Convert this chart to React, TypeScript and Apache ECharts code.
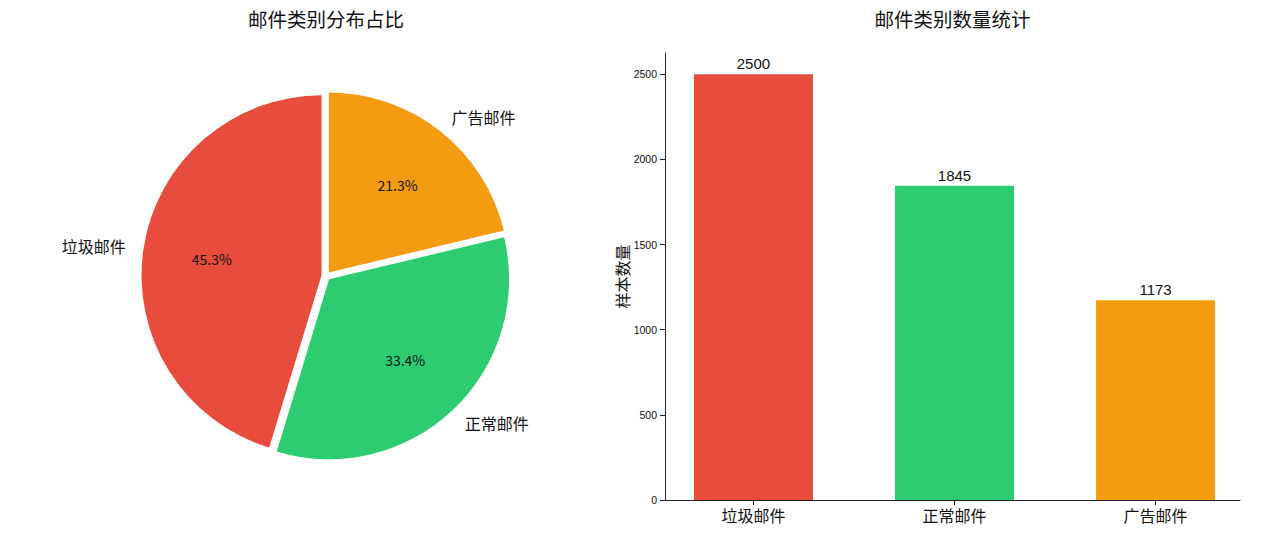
import React, { useEffect, useRef } from "react";
import * as echarts from "echarts";

const categories = ["垃圾邮件", "正常邮件", "广告邮件"];
const counts = [2500, 1845, 1173];
const colors = ["#e74c3c", "#2ecc71", "#f39c12"];
const yTicks = [0, 500, 1000, 1500, 2000, 2500];
const pieTitle = "邮件类别分布占比";
const barTitle = "邮件类别数量统计";
const yName = "样本数量";

const CJK = '"Noto Sans CJK SC", sans-serif';
const NUM = '"Liberation Sans", "Noto Sans CJK SC", sans-serif';

export default function App() {
  const ref = useRef<HTMLDivElement>(null);
  useEffect(() => {
    if (!ref.current) return;
    const chart = echarts.init(ref.current, null, { renderer: "svg" });
    const total = counts.reduce((a, b) => a + b, 0);
    const pieCenter = [326, 276];
    const R = 180;
    const off = 4.5;
    const pieData = categories.map((c, i) => ({
      name: c,
      value: counts[i],
      selected: true,
      itemStyle: { color: colors[i] },
    }));
    const overlayData = categories.map((c, i) => ({
      name: c,
      value: counts[i],
      selected: true,
      itemStyle: { color: "rgba(0,0,0,0)" },
    }));
    chart.setOption({
      animation: false,
      title: [
        {
          text: pieTitle,
          left: 326,
          top: 9,
          textAlign: "center",
          padding: 0,
          textStyle: { fontFamily: CJK, fontSize: 19.5, fontWeight: "normal", color: "#111" },
        },
        {
          text: barTitle,
          left: 952.5,
          top: 9,
          textAlign: "center",
          padding: 0,
          textStyle: { fontFamily: CJK, fontSize: 19.5, fontWeight: "normal", color: "#111" },
        },
      ],
      grid: { left: 665, right: 21, top: 53, bottom: 55, containLabel: false },
      xAxis: {
        type: "value",
        min: -0.44,
        max: 2.42,
        splitLine: { show: false },
        axisLine: { show: true, onZero: false, lineStyle: { color: "#222", width: 1 } },
        axisTick: { show: true, customValues: [0, 1, 2], length: 5, lineStyle: { color: "#222" } },
        axisLabel: {
          customValues: [0, 1, 2],
          formatter: (v: number) => categories[Math.round(v)] ?? "",
          fontFamily: CJK,
          fontSize: 16,
          color: "#111",
          margin: 7,
        },
      },
      yAxis: {
        type: "value",
        min: 0,
        max: 2625,
        name: yName,
        nameLocation: "middle",
        nameGap: 34,
        nameTextStyle: { fontFamily: CJK, fontSize: 16, color: "#111" },
        splitLine: { show: false },
        axisLine: { show: true, onZero: false, lineStyle: { color: "#222", width: 1 } },
        axisTick: { show: true, customValues: yTicks, length: 5, lineStyle: { color: "#222" } },
        axisLabel: {
          customValues: yTicks,
          formatter: (v: number) => String(v),
          fontFamily: NUM,
          fontSize: 10.5,
          color: "#111",
          margin: 8,
        },
      },
      series: [
        {
          type: "bar",
          data: counts.map((v, i) => ({ value: [i, v], itemStyle: { color: colors[i] } })),
          barWidth: 119,
          label: {
            show: true,
            position: "top",
            distance: 3,
            formatter: (p: any) => String(p.value[1]),
            fontFamily: NUM,
            fontSize: 15,
            color: "#111",
          },
          silent: true,
        },
        {
          type: "pie",
          center: pieCenter,
          radius: [0, R],
          startAngle: 90,
          clockwise: false,
          avoidLabelOverlap: false,
          selectedMode: "multiple",
          selectedOffset: off,
          silent: true,
          data: pieData,
          label: {
            show: true,
            position: "outside",
            distanceToLabelLine: 0,
            fontFamily: CJK,
            fontSize: 16,
            color: "#111",
          },
          labelLine: { show: false, length: 18, length2: 0 },
          emphasis: { disabled: true },
        },
        {
          type: "pie",
          center: pieCenter,
          radius: [36, R],
          startAngle: 90,
          clockwise: false,
          avoidLabelOverlap: false,
          selectedMode: "multiple",
          selectedOffset: off,
          silent: true,
          data: overlayData,
          label: {
            show: true,
            position: "inside",
            formatter: (p: any) => ((p.value / total) * 100).toFixed(1) + "%",
            fontFamily: CJK,
            fontSize: 14,
            color: "#111",
          },
          labelLine: { show: false },
          emphasis: { disabled: true },
        },
      ],
    });
    return () => chart.dispose();
  }, []);
  return (
    <div
      ref={ref}
      style={{ position: "absolute", left: 0, top: 0, width: 1261, height: 555 }}
    />
  );
}
